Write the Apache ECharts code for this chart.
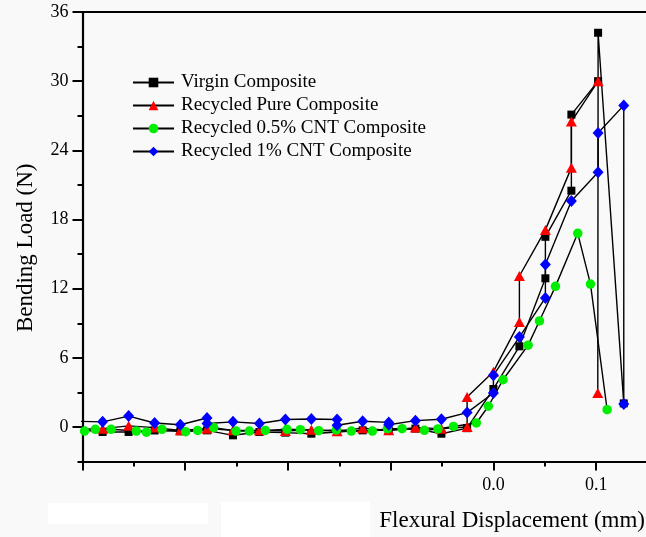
<!DOCTYPE html>
<html><head><meta charset="utf-8">
<script src="https://cdn.jsdelivr.net/npm/echarts@6/dist/echarts.min.js"></script>
<style>html,body{margin:0;padding:0;background:#f9f9f9}#c{width:646px;height:537px}</style>
</head><body><div id="c"></div>
<script>
const seriesNames = ['Virgin Composite', 'Recycled Pure Composite', 'Recycled 0.5% CNT Composite', 'Recycled 1% CNT Composite'];

const virginX = [-0.405, -0.3804, -0.3551, -0.3298, -0.3048, -0.2788, -0.2535, -0.2278, -0.2025, -0.1772, -0.1522, -0.1273, -0.1019, -0.0759, -0.0506, -0.0256, 0, 0.0253, 0.0506, 0.0506, 0.0759, 0.0759, 0.1019, 0.1019, 0.1269];
const virginY = [-0.2, -0.43, -0.43, -0.3, -0.37, -0.29, -0.72, -0.43, -0.49, -0.58, -0.43, -0.29, -0.29, -0.14, -0.58, -0.1, 3.3, 7.0, 12.9, 16.5, 20.5, 27.1, 30.0, 34.2, 2.05];

const pureX = [-0.405, -0.3804, -0.3551, -0.3298, -0.3048, -0.2788, -0.2535, -0.2278, -0.2025, -0.1772, -0.1522, -0.1273, -0.1019, -0.0759, -0.0506, -0.0256, -0.0256, 0, 0.0253, 0.0253, 0.0506, 0.0759, 0.0759, 0.1019, 0.1016];
const pureY = [-0.2, -0.14, 0.1, -0.05, -0.29, -0.14, -0.29, -0.29, -0.35, -0.23, -0.37, -0.1, -0.29, -0.05, -0.14, 0.0, 2.6, 4.8, 9.1, 13.1, 17.1, 22.5, 26.5, 30.0, 2.95];

const cnt05X = [-0.398, -0.3875, -0.3722, -0.3476, -0.3378, -0.3226, -0.2996, -0.2879, -0.2723, -0.2505, -0.2376, -0.2220, -0.2009, -0.1879, -0.1701, -0.1529, -0.1383, -0.1178, -0.1032, -0.0889, -0.0672, -0.0540, -0.0389, -0.0166, -0.0049, 0.0094, 0.0338, 0.0448, 0.0604, 0.0821, 0.0945, 0.1107];
const cnt05Y = [-0.35, -0.2, -0.2, -0.35, -0.45, -0.2, -0.4, -0.3, -0.05, -0.35, -0.35, -0.3, -0.2, -0.23, -0.32, -0.25, -0.35, -0.35, -0.14, -0.14, -0.29, -0.17, 0.05, 0.35, 1.8, 4.1, 7.1, 9.2, 12.2, 16.8, 12.4, 1.5];

const cnt1X = [-0.405, -0.3804, -0.3551, -0.3298, -0.3048, -0.2788, -0.2788, -0.2535, -0.2278, -0.2025, -0.1772, -0.1522, -0.1522, -0.1273, -0.1019, -0.1019, -0.0759, -0.0506, -0.0256, 0, 0, 0.0253, 0.0506, 0.0506, 0.0759, 0.1019, 0.1019, 0.1269, 0.1269];
const cnt1Y = [0.5, 0.45, 0.95, 0.35, 0.2, 0.78, 0.3, 0.45, 0.3, 0.65, 0.7, 0.65, 0.15, 0.5, 0.4, 0.2, 0.55, 0.67, 1.25, 2.95, 4.5, 7.8, 11.2, 14.1, 19.6, 22.1, 25.5, 27.9, 2.0];

const yMajorTicks = [0, 6, 12, 18, 24, 30, 36];
const yMinorTicks = [-3, 3, 9, 15, 21, 27, 33];
const xMajorTicks = [-0.4, -0.3, -0.2, -0.1, 0, 0.1];
const xMinorTicks = [-0.35, -0.25, -0.15, -0.05, 0.05, 0.15];
const xLabelTicks = [0, 0.1];

const FONT = "'Liberation Serif', 'Times New Roman', serif";
const zip = (xs, ys) => xs.map((x, i) => [x, ys[i]]);

const chart = echarts.init(document.getElementById('c'), null, {renderer: 'canvas'});
const grid = {left: 82.5, top: 12, width: 565, height: 449.6, outerBoundsMode: 'none', containLabel: false};
const axisLineStyle = {color: '#000', width: 2.2};

function mkSeries(name, xs, ys, symbol, size, color) {
  return {
    type: 'line', name, data: zip(xs, ys), symbol, symbolSize: size,
    showAllSymbol: true, clip: true, animation: false,
    itemStyle: {color, borderWidth: 0},
    lineStyle: {color: '#000', width: 1.4}
  };
}

chart.setOption({
  backgroundColor: '#f9f9f9',
  animation: false,
  grid,
  legend: {
    orient: 'vertical', left: 132, top: 73, padding: 0,
    itemWidth: 41, itemHeight: 12, itemGap: 4,
    textStyle: {fontFamily: FONT, fontSize: 19, color: '#000', lineHeight: 19, padding: [0, 0, 0, 2]},
    data: seriesNames
  },
  xAxis: [
    {
      type: 'value', position: 'bottom', min: -0.4, max: 0.15,
      axisLine: {show: true, onZero: false, lineStyle: axisLineStyle},
      axisTick: {show: true, inside: false, length: 9, lineStyle: {color: '#000', width: 2}, customValues: xMajorTicks},
      axisLabel: {show: true, margin: 15, fontFamily: FONT, fontSize: 18, color: '#000', customValues: xLabelTicks, formatter: v => v.toFixed(1)},
      splitLine: {show: false},
      name: 'Flexural Displacement (mm)', nameLocation: 'end', nameGap: -2.5,
      nameTextStyle: {fontFamily: FONT, fontSize: 23, color: '#000', align: 'right', verticalAlign: 'top', padding: [48, 0, 0, 0]}
    },
    {
      type: 'value', position: 'bottom', min: -0.4, max: 0.15,
      axisLine: {show: false, onZero: false},
      axisTick: {show: true, length: 5, lineStyle: {color: '#000', width: 2}, customValues: xMinorTicks},
      axisLabel: {show: false}, splitLine: {show: false}
    },
    {
      type: 'value', position: 'top', min: -0.4, max: 0.15,
      axisLine: {show: true, onZero: false, lineStyle: {color: '#000', width: 1.8}},
      axisTick: {show: false}, axisLabel: {show: false}, splitLine: {show: false}
    }
  ],
  yAxis: [
    {
      type: 'value', position: 'left', min: -3, max: 36,
      axisLine: {show: true, onZero: false, lineStyle: axisLineStyle},
      axisTick: {show: true, length: 10, lineStyle: {color: '#000', width: 2}, customValues: yMajorTicks},
      axisLabel: {show: true, margin: 14, fontFamily: FONT, fontSize: 18, color: '#000', customValues: yMajorTicks},
      splitLine: {show: false},
      name: 'Bending Load (N)', nameLocation: 'middle', nameGap: 45,
      nameTextStyle: {fontFamily: FONT, fontSize: 23, color: '#000', padding: [0, 22, 0, 0]}
    },
    {
      type: 'value', position: 'left', min: -3, max: 36,
      axisLine: {show: false, onZero: false},
      axisTick: {show: true, length: 5, lineStyle: {color: '#000', width: 2}, customValues: yMinorTicks},
      axisLabel: {show: false}, splitLine: {show: false}
    }
  ],
  graphic: [
    {type: 'rect', left: 48, top: 503, shape: {width: 160, height: 21}, style: {fill: '#ffffff'}, silent: true},
    {type: 'rect', left: 221, top: 502, shape: {width: 149, height: 35}, style: {fill: '#ffffff'}, silent: true}
  ],
  series: [
    mkSeries(seriesNames[0], virginX, virginY, 'rect', 8, '#000000'),
    mkSeries(seriesNames[1], pureX, pureY, 'triangle', [11, 10], '#ff0000'),
    mkSeries(seriesNames[2], cnt05X, cnt05Y, 'circle', 9.5, '#00ee00'),
    mkSeries(seriesNames[3], cnt1X, cnt1Y, 'diamond', [11, 12], '#0000ff')
  ]
});
</script>
</body></html>
